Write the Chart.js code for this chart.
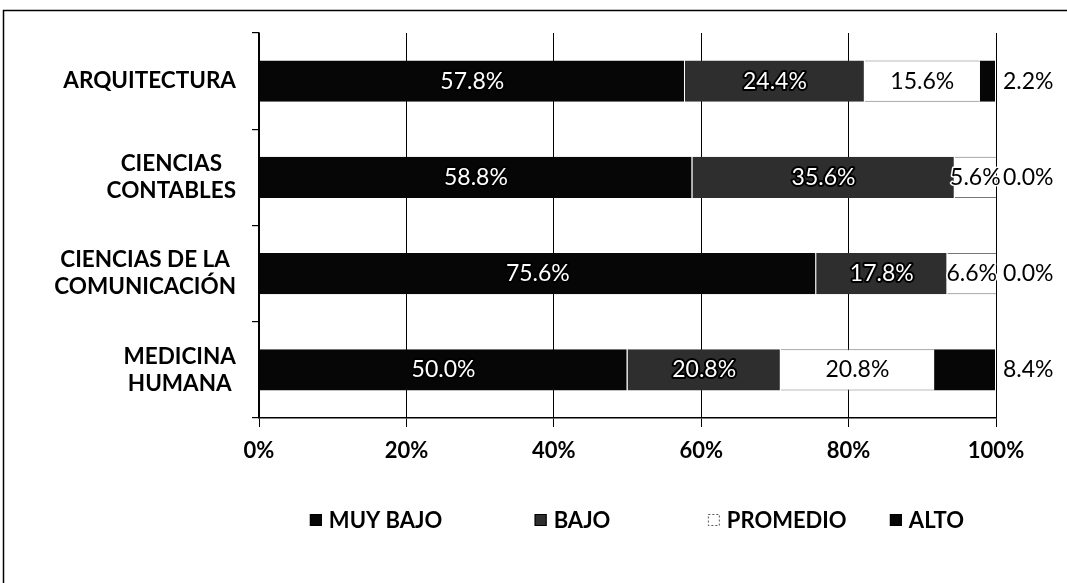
<!DOCTYPE html>
<html>
<head>
<meta charset="utf-8">
<script src="https://cdn.jsdelivr.net/npm/chart.js@4"></script>
<style>
  html, body { margin: 0; padding: 0; background: #fff; }
  #wrap { width: 1067px; height: 583px; }
</style>
</head>
<body>
<div id="wrap"><canvas id="c" width="1067" height="583"></canvas></div>
<script>
const categories = [
  ["ARQUITECTURA"],
  ["CIENCIAS", "CONTABLES"],
  ["CIENCIAS DE LA", "COMUNICACIÓN"],
  ["MEDICINA", "HUMANA"]
];
const seriesNames = ["MUY BAJO", "BAJO", "PROMEDIO", "ALTO"];
const muyBajo  = [57.8, 58.8, 75.6, 50.0];
const bajo     = [24.4, 35.6, 17.8, 20.8];
const promedio = [15.6, 5.6, 6.6, 20.8];
const alto     = [2.2, 0.0, 0.0, 8.4];
const xTicks = [0, 20, 40, 60, 80, 100];

const FONT = "Lato, 'Open Sans', sans-serif";
const fills = ["#060606", "#2e2e2e", "#ffffff", "#060606"];
const seriesData = [muyBajo, bajo, promedio, alto];

const frame = {
  id: 'frame',
  beforeDraw(chart) {
    const ctx = chart.ctx;
    ctx.save();
    ctx.fillStyle = '#fff';
    ctx.fillRect(0, 0, chart.width, chart.height);
    ctx.strokeStyle = '#000';
    ctx.lineWidth = 1.5;
    ctx.beginPath();
    ctx.moveTo(3.5, chart.height);
    ctx.lineTo(3.5, 10.5);
    ctx.lineTo(chart.width, 10.5);
    ctx.stroke();
    ctx.restore();
  }
};

const catLabels = {
  id: 'catLabels',
  afterDraw(chart) {
    const ctx = chart.ctx;
    const y = chart.scales.y;
    ctx.save();
    ctx.font = "bold 22.5px " + FONT;
    ctx.fillStyle = '#000';
    ctx.textBaseline = 'middle';
    ctx.textAlign = 'center';
    const lh = 27;
    const right = chart.chartArea.left - 23;
    categories.forEach((lines, i) => {
      const cy = y.getPixelForTick(i);
      const w = Math.max(...lines.map(l => ctx.measureText(l).width));
      const cx = right - w / 2;
      lines.forEach((l, k) => {
        const ly = cy + (k - (lines.length - 1) / 2) * lh;
        ctx.fillText(l, cx, ly);
      });
    });
    ctx.restore();
  }
};

const valueLabels = {
  id: 'valueLabels',
  afterDatasetsDraw(chart) {
    const ctx = chart.ctx;
    ctx.save();
    ctx.font = "23px " + FONT;
    ctx.textBaseline = 'middle';
    ctx.lineJoin = 'round';
    chart.data.datasets.forEach((ds, di) => {
      const meta = chart.getDatasetMeta(di);
      meta.data.forEach((bar, i) => {
        const v = ds.data[i];
        const txt = v.toFixed(1) + '%';
        const p = bar.getProps(['x', 'y', 'base'], true);
        if (di === 3) {
          ctx.textAlign = 'left';
          ctx.fillStyle = '#000';
          ctx.fillText(txt, chart.chartArea.right + 7, p.y);
          return;
        }
        const cx = (p.x + p.base) / 2;
        ctx.textAlign = 'center';
        if (di === 2) {
          ctx.strokeStyle = '#fff';
          ctx.lineWidth = 3;
          ctx.strokeText(txt, cx, p.y);
          ctx.fillStyle = '#000';
          ctx.fillText(txt, cx, p.y);
        } else {
          ctx.strokeStyle = '#000';
          ctx.lineWidth = 4;
          ctx.strokeText(txt, cx, p.y);
          ctx.fillStyle = '#fff';
          ctx.fillText(txt, cx, p.y);
        }
      });
    });
    ctx.restore();
  }
};

const legendPos = [0.069, 0.374, 0.609, 0.856];
const customLegend = {
  id: 'customLegend',
  afterDraw(chart) {
    const ctx = chart.ctx;
    const a = chart.chartArea;
    const ly = 520;
    ctx.save();
    ctx.font = "bold 22px " + FONT;
    ctx.textBaseline = 'middle';
    ctx.textAlign = 'left';
    seriesNames.forEach((name, i) => {
      const bx = a.left + legendPos[i] * (a.right - a.left);
      ctx.fillStyle = fills[i];
      ctx.fillRect(bx, ly - 6, 12, 12);
      ctx.strokeStyle = i === 2 ? '#555' : '#000';
      ctx.lineWidth = 1;
      if (i === 2) ctx.setLineDash([2, 2]);
      ctx.strokeRect(bx + 0.5, ly - 5.5, 11, 11);
      ctx.setLineDash([]);
      ctx.fillStyle = '#000';
      ctx.fillText(name, bx + 19, ly + 1);
    });
    ctx.restore();
  }
};

const datasets = seriesNames.map((name, i) => ({
  label: name,
  data: seriesData[i],
  backgroundColor: fills[i],
  borderColor: i === 2 ? '#777' : '#ffffff',
  borderWidth: i === 2 ? {top: 1, bottom: 1, left: 0, right: 0} : {right: 1, left: 0, top: 0, bottom: 0},
  borderSkipped: false,
  barPercentage: 0.43,
  categoryPercentage: 1.0
}));

new Chart(document.getElementById('c'), {
  type: 'bar',
  data: { labels: categories, datasets },
  plugins: [frame, catLabels, valueLabels, customLegend],
  options: {
    indexAxis: 'y',
    responsive: false,
    animation: false,
    devicePixelRatio: 1,
    layout: { padding: { top: 33, left: 10, right: 71, bottom: 0 } },
    plugins: { legend: { display: false }, tooltip: { enabled: false } },
    scales: {
      x: {
        stacked: true,
        min: 0, max: 100,
        afterBuildTicks(scale) { scale.ticks = xTicks.map(v => ({ value: v })); },
        afterFit(scale) { scale.height = 165; },
        grid: { color: '#000', lineWidth: 1, tickLength: 9, drawOnChartArea: true },
        border: { color: '#000', width: 1.5 },
        ticks: {
          callback: v => v + '%',
          font: { family: FONT, size: 22, weight: 'bold' },
          color: '#000',
          padding: 11,
          maxRotation: 0
        }
      },
      y: {
        stacked: true,
        afterFit(scale) { scale.width = 249; },
        grid: { offset: true, drawOnChartArea: false, color: '#000', tickLength: 7, lineWidth: 1.2 },
        border: { color: '#000', width: 1.5 },
        ticks: { display: false }
      }
    }
  }
});
</script>
</body>
</html>
